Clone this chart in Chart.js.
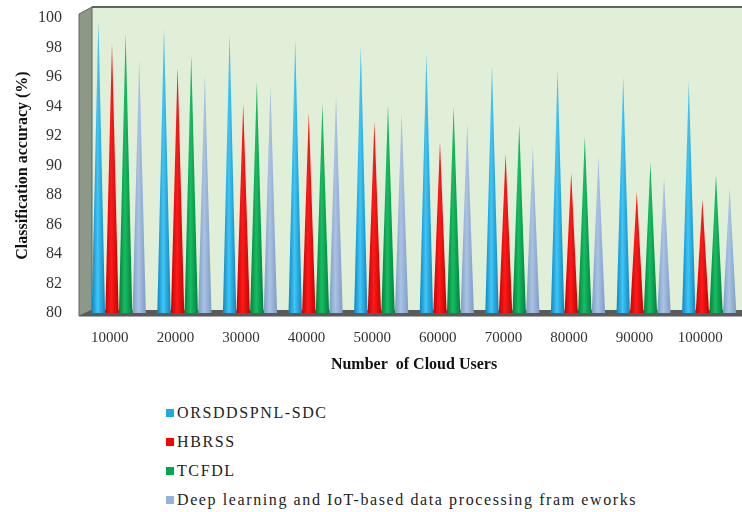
<!DOCTYPE html>
<html>
<head>
<meta charset="utf-8">
<script src="https://cdn.jsdelivr.net/npm/chart.js@4.4.0/dist/chart.umd.min.js"></script>
<style>
  html, body { margin: 0; padding: 0; background: #fff; }
  #wrap { position: relative; width: 742px; height: 512px; overflow: hidden; }
  #chart-box { position: absolute; left: 0; top: 0; width: 742px; height: 380px; }
  #legend { position: absolute; left: 166px; top: 398px; font-family: 'Liberation Serif', serif; font-size: 16px; letter-spacing: 1.6px; color: #222; }
  #legend .item { height: 29px; display: flex; align-items: center; }
  #legend .sw { display: inline-block; width: 8px; height: 8px; margin-right: 3px; }
</style>
</head>
<body>
<div id="wrap">
  <div id="chart-box"><canvas id="chart"></canvas></div>
  <div id="legend"></div>
</div>
<script>
(function () {
  'use strict';

  const SERIF = "'Liberation Serif', 'Times New Roman', serif";

  const users = ['10000', '20000', '30000', '40000', '50000', '60000', '70000', '80000', '90000', '100000'];
  const seriesNames = ['ORSDDSPNL-SDC', 'HBRSS', 'TCFDL', 'Deep learning and IoT-based data processing fram eworks'];

  const orsddspnl = [99.8, 99.3, 98.9, 98.5, 98.1, 97.6, 96.8, 96.5, 96.0, 95.7];
  const hbrss     = [98.3, 96.7, 94.2, 93.6, 93.0, 91.6, 90.8, 89.5, 88.2, 87.7];
  const tcfdl     = [99.0, 97.5, 95.7, 94.2, 94.1, 94.0, 92.8, 92.0, 90.2, 89.4];
  const deepIot   = [97.2, 96.2, 95.4, 94.8, 93.6, 92.9, 91.3, 90.6, 89.2, 88.5];

  // swatch, dark edge, light highlight
  const COLORS = [
    ['#1FA9E1', '#0E86BE', '#3FC6F7'],
    ['#FF0000', '#C80000', '#FF1A1A'],
    ['#00A84F', '#00813E', '#16BE62'],
    ['#95B3D7', '#7E9CC4', '#A9C3E4'],
  ];

  const coneBars = {
    id: 'coneBars',
    beforeDraw(chart) {
      const { ctx, chartArea: a } = chart;
      ctx.save();
      // back wall
      ctx.fillStyle = '#E1EFD8';
      ctx.fillRect(a.left + 6, a.top - 11, a.right - a.left - 6, a.bottom - a.top + 8);
      ctx.strokeStyle = '#5E655C';
      ctx.lineWidth = 2;
      ctx.beginPath();
      ctx.moveTo(a.left + 6, a.top - 11);
      ctx.lineTo(a.right, a.top - 11);
      ctx.stroke();
      // left side wall
      ctx.fillStyle = '#8D9889';
      ctx.beginPath();
      ctx.moveTo(a.left - 7, a.top - 4);
      ctx.lineTo(a.left + 6, a.top - 11);
      ctx.lineTo(a.left + 6, a.bottom - 3);
      ctx.lineTo(a.left - 7, a.bottom + 3);
      ctx.closePath();
      ctx.fill();
      ctx.strokeStyle = '#5E655C';
      ctx.lineWidth = 1;
      ctx.stroke();
      // floor
      ctx.fillStyle = '#5A5A5A';
      ctx.beginPath();
      ctx.moveTo(a.left - 7, a.bottom + 3);
      ctx.lineTo(a.left + 6, a.bottom - 3);
      ctx.lineTo(a.right, a.bottom - 3);
      ctx.lineTo(a.right, a.bottom + 3);
      ctx.closePath();
      ctx.fill();
      ctx.strokeStyle = '#A8A8A8';
      ctx.beginPath();
      ctx.moveTo(a.left - 7, a.bottom + 3.5);
      ctx.lineTo(a.right, a.bottom + 3.5);
      ctx.stroke();
      ctx.restore();
    },
    beforeDatasetDraw(chart, args) {
      const ctx = chart.ctx;
      const bottom = chart.chartArea.bottom;
      const [, dark, light] = COLORS[args.index];
      ctx.save();
      args.meta.data.forEach(bar => {
        const p = bar.getProps(['x', 'y', 'base', 'width'], true);
        const base = Math.min(p.base, bottom);
        const half = p.width / 2;
        const g = ctx.createLinearGradient(p.x - half, 0, p.x + half, 0);
        g.addColorStop(0, dark);
        g.addColorStop(0.45, light);
        g.addColorStop(1, dark);
        ctx.fillStyle = g;
        ctx.beginPath();
        ctx.moveTo(p.x - half, base);
        ctx.lineTo(p.x, p.y);
        ctx.lineTo(p.x + half, base);
        ctx.closePath();
        ctx.fill();
      });
      ctx.restore();
      return false;
    },
  };

  const allSeries = [orsddspnl, hbrss, tcfdl, deepIot];

  new Chart(document.getElementById('chart'), {
    type: 'bar',
    data: {
      labels: users,
      datasets: allSeries.map((vals, i) => ({
        label: seriesNames[i],
        data: vals,
        base: 80,
        backgroundColor: COLORS[i][0],
        categoryPercentage: 0.83,
        barPercentage: 0.98,
      })),
    },
    options: {
      responsive: true,
      maintainAspectRatio: false,
      animation: false,
      layout: { padding: { top: 18, right: 0, bottom: 0, left: 0 } },
      plugins: {
        legend: { display: false },
        tooltip: { enabled: false },
      },
      scales: {
        x: {
          grid: { display: false, drawTicks: false },
          border: { display: false },
          ticks: {
            color: '#333',
            padding: 16,
            labelOffset: -9,
            maxRotation: 0,
            font: { family: SERIF, size: 15 },
          },
          title: {
            display: true,
            text: 'Number  of Cloud Users',
            color: '#111',
            font: { family: SERIF, size: 16, weight: 'bold' },
            padding: { top: 8, bottom: 6 },
          },
          afterFit(scale) {
            scale.height = 67;
            scale.paddingLeft = 0;
            scale.paddingRight = 0;
          },
        },
        y: {
          min: 80,
          max: 100,
          grid: { display: false, drawTicks: false },
          border: { display: false },
          ticks: {
            stepSize: 2,
            color: '#333',
            padding: 24,
            font: { family: SERIF, size: 16 },
          },
          title: {
            display: true,
            text: 'Classification accuracy (%)',
            color: '#111',
            font: { family: SERIF, size: 16, weight: 'bold' },
            padding: { top: 13, bottom: 4 },
          },
          afterFit(scale) {
            scale.width = 86;
            scale.paddingTop = 0;
            scale.paddingBottom = 0;
          },
        },
      },
    },
    plugins: [coneBars],
  });

  const legend = document.getElementById('legend');
  seriesNames.forEach((name, i) => {
    const row = document.createElement('div');
    row.className = 'item';
    const sw = document.createElement('span');
    sw.className = 'sw';
    sw.style.background = COLORS[i][0];
    row.appendChild(sw);
    row.appendChild(document.createTextNode(name));
    legend.appendChild(row);
  });
})();
</script>
</body>
</html>
